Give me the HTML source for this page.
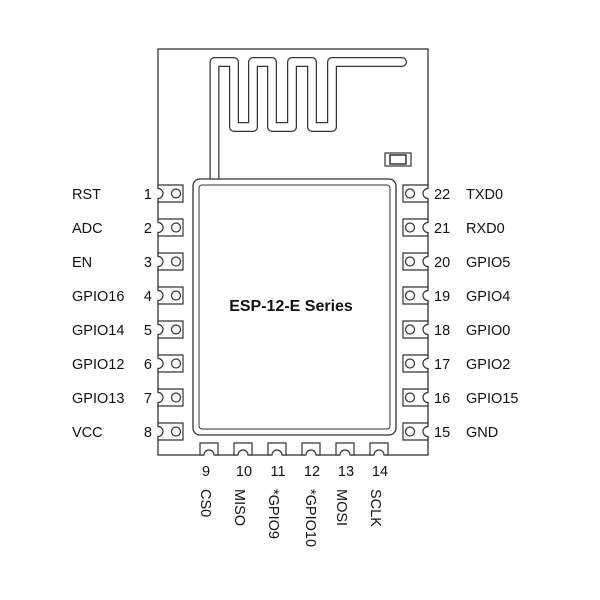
<!DOCTYPE html>
<html><head><style>body{margin:0;background:#fff}svg{display:block}text{font-family:"Liberation Sans",Arial,sans-serif;fill:#111}</style></head><body>
<svg width="600" height="600" viewBox="0 0 600 600" xmlns="http://www.w3.org/2000/svg">
<rect x="158" y="49" width="270" height="406" fill="#fff" stroke="#333" stroke-width="1.3"/>
<g fill="none" stroke-linejoin="round" stroke-linecap="round">
<path d="M214.5 180 V62 H234 V127 H253 V62 H272 V127 H292 V62 H312 V127 H332 V62 H402" stroke="#333" stroke-width="10"/>
<path d="M214.5 181 V62 H234 V127 H253 V62 H272 V127 H292 V62 H312 V127 H332 V62 H402" stroke="#fff" stroke-width="7.5"/>
</g>
<rect x="385" y="153" width="26" height="13" fill="#fff" stroke="#333" stroke-width="1.2"/>
<rect x="390" y="155" width="16" height="9" fill="#fff" stroke="#333" stroke-width="1.5"/>
<rect x="193" y="179" width="203" height="256" rx="7" fill="#fff" stroke="#333" stroke-width="1.3"/>
<rect x="199" y="185" width="191" height="244" rx="3" fill="none" stroke="#333" stroke-width="1"/>
<text x="291" y="311" font-size="16" font-weight="bold" text-anchor="middle">ESP-12-E Series</text>
<g fill="#fff">
<rect x="156" y="188" width="4" height="11"/><rect x="156" y="222" width="4" height="11"/><rect x="156" y="256" width="4" height="11"/><rect x="156" y="290" width="4" height="11"/><rect x="156" y="324" width="4" height="11"/><rect x="156" y="358" width="4" height="11"/><rect x="156" y="392" width="4" height="11"/><rect x="156" y="426" width="4" height="11"/>
<rect x="426" y="188" width="4" height="11"/><rect x="426" y="222" width="4" height="11"/><rect x="426" y="256" width="4" height="11"/><rect x="426" y="290" width="4" height="11"/><rect x="426" y="324" width="4" height="11"/><rect x="426" y="358" width="4" height="11"/><rect x="426" y="392" width="4" height="11"/><rect x="426" y="426" width="4" height="11"/>
<rect x="203" y="453" width="12" height="4"/><rect x="237" y="453" width="12" height="4"/><rect x="271" y="453" width="12" height="4"/><rect x="305" y="453" width="12" height="4"/><rect x="339" y="453" width="12" height="4"/><rect x="373" y="453" width="12" height="4"/>
</g>
<g stroke="#333" stroke-width="1.2" fill="#fff">
<path d="M158 185 H183 V202 H158 V198.5 A5 5 0 0 0 158 188.5 Z"/><circle cx="176" cy="193.5" r="4.5"/>
<path d="M158 219 H183 V236 H158 V232.5 A5 5 0 0 0 158 222.5 Z"/><circle cx="176" cy="227.5" r="4.5"/>
<path d="M158 253 H183 V270 H158 V266.5 A5 5 0 0 0 158 256.5 Z"/><circle cx="176" cy="261.5" r="4.5"/>
<path d="M158 287 H183 V304 H158 V300.5 A5 5 0 0 0 158 290.5 Z"/><circle cx="176" cy="295.5" r="4.5"/>
<path d="M158 321 H183 V338 H158 V334.5 A5 5 0 0 0 158 324.5 Z"/><circle cx="176" cy="329.5" r="4.5"/>
<path d="M158 355 H183 V372 H158 V368.5 A5 5 0 0 0 158 358.5 Z"/><circle cx="176" cy="363.5" r="4.5"/>
<path d="M158 389 H183 V406 H158 V402.5 A5 5 0 0 0 158 392.5 Z"/><circle cx="176" cy="397.5" r="4.5"/>
<path d="M158 423 H183 V440 H158 V436.5 A5 5 0 0 0 158 426.5 Z"/><circle cx="176" cy="431.5" r="4.5"/>

<path d="M428 185 H403 V202 H428 V198.5 A5 5 0 0 1 428 188.5 Z"/><circle cx="410" cy="193.5" r="4.5"/>
<path d="M428 219 H403 V236 H428 V232.5 A5 5 0 0 1 428 222.5 Z"/><circle cx="410" cy="227.5" r="4.5"/>
<path d="M428 253 H403 V270 H428 V266.5 A5 5 0 0 1 428 256.5 Z"/><circle cx="410" cy="261.5" r="4.5"/>
<path d="M428 287 H403 V304 H428 V300.5 A5 5 0 0 1 428 290.5 Z"/><circle cx="410" cy="295.5" r="4.5"/>
<path d="M428 321 H403 V338 H428 V334.5 A5 5 0 0 1 428 324.5 Z"/><circle cx="410" cy="329.5" r="4.5"/>
<path d="M428 355 H403 V372 H428 V368.5 A5 5 0 0 1 428 358.5 Z"/><circle cx="410" cy="363.5" r="4.5"/>
<path d="M428 389 H403 V406 H428 V402.5 A5 5 0 0 1 428 392.5 Z"/><circle cx="410" cy="397.5" r="4.5"/>
<path d="M428 423 H403 V440 H428 V436.5 A5 5 0 0 1 428 426.5 Z"/><circle cx="410" cy="431.5" r="4.5"/>

<path d="M200 455 V443 H218 V455 H214 A5 5 0 0 0 204 455 Z"/>
<path d="M234 455 V443 H252 V455 H248 A5 5 0 0 0 238 455 Z"/>
<path d="M268 455 V443 H286 V455 H282 A5 5 0 0 0 272 455 Z"/>
<path d="M302 455 V443 H320 V455 H316 A5 5 0 0 0 306 455 Z"/>
<path d="M336 455 V443 H354 V455 H350 A5 5 0 0 0 340 455 Z"/>
<path d="M370 455 V443 H388 V455 H384 A5 5 0 0 0 374 455 Z"/>
</g>
<g font-size="14.5">
<text x="72" y="199">RST</text><text x="152" y="199" text-anchor="end">1</text>
<text x="72" y="233">ADC</text><text x="152" y="233" text-anchor="end">2</text>
<text x="72" y="267">EN</text><text x="152" y="267" text-anchor="end">3</text>
<text x="72" y="301">GPIO16</text><text x="152" y="301" text-anchor="end">4</text>
<text x="72" y="335">GPIO14</text><text x="152" y="335" text-anchor="end">5</text>
<text x="72" y="369">GPIO12</text><text x="152" y="369" text-anchor="end">6</text>
<text x="72" y="403">GPIO13</text><text x="152" y="403" text-anchor="end">7</text>
<text x="72" y="437">VCC</text><text x="152" y="437" text-anchor="end">8</text>

<text x="434" y="199">22</text><text x="466" y="199">TXD0</text>
<text x="434" y="233">21</text><text x="466" y="233">RXD0</text>
<text x="434" y="267">20</text><text x="466" y="267">GPIO5</text>
<text x="434" y="301">19</text><text x="466" y="301">GPIO4</text>
<text x="434" y="335">18</text><text x="466" y="335">GPIO0</text>
<text x="434" y="369">17</text><text x="466" y="369">GPIO2</text>
<text x="434" y="403">16</text><text x="466" y="403">GPIO15</text>
<text x="434" y="437">15</text><text x="466" y="437">GND</text>

<text x="206" y="476" text-anchor="middle">9</text>
<text x="244" y="476" text-anchor="middle">10</text>
<text x="278" y="476" text-anchor="middle">11</text>
<text x="312" y="476" text-anchor="middle">12</text>
<text x="346" y="476" text-anchor="middle">13</text>
<text x="380" y="476" text-anchor="middle">14</text>
<text transform="translate(201,489) rotate(90)">CS0</text>
<text transform="translate(235,489) rotate(90)">MISO</text>
<text transform="translate(269,489) rotate(90)">*GPIO9</text>
<text transform="translate(306,489) rotate(90)">*GPIO10</text>
<text transform="translate(337,489) rotate(90)">MOSI</text>
<text transform="translate(371,489) rotate(90)">SCLK</text>
</g>
</svg>
</body></html>
